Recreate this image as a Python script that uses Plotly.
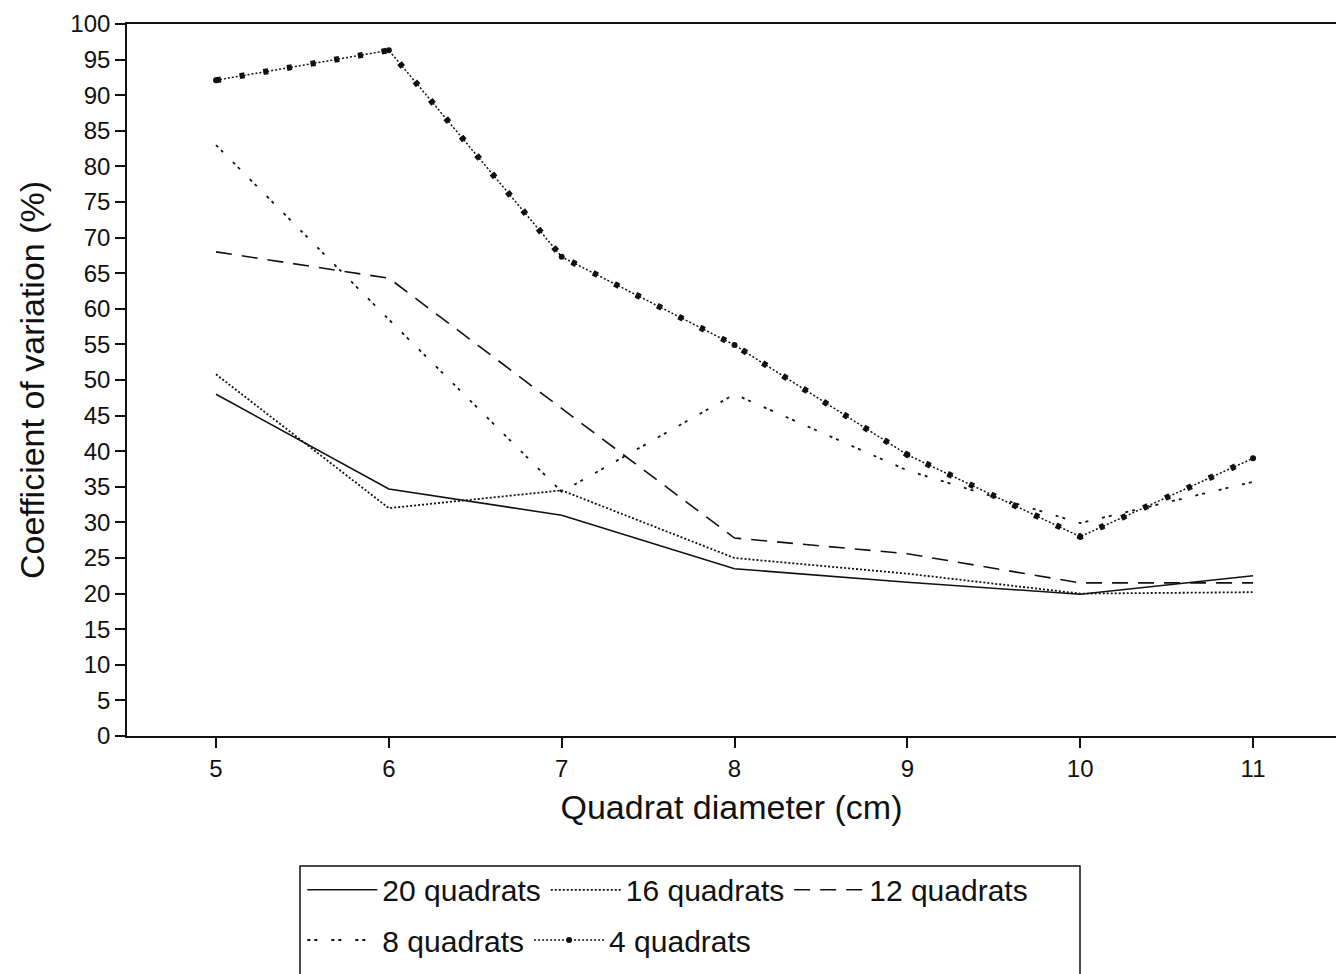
import plotly.graph_objects as go

diameters = [5, 6, 7, 8, 9, 10, 11]
q20 = [48.0, 34.7, 31.0, 23.5, 21.6, 19.9, 22.5]
q16 = [50.8, 32.0, 34.5, 25.0, 22.8, 20.0, 20.2]
q12 = [68.0, 64.3, 46.0, 27.8, 25.6, 21.5, 21.5]
q8 = [83.0, 58.5, 34.3, 48.0, 37.3, 29.9, 35.7]
q4 = [92.1, 96.3, 67.3, 54.9, 39.5, 28.0, 39.0]
yticks = list(range(0, 101, 5))

FONT = "Liberation Sans, Arial, Helvetica, sans-serif"
INK = "#111111"

fig = go.Figure()

fig.add_trace(go.Scatter(x=diameters, y=q20, mode="lines", name="20 quadrats",
                         line=dict(color=INK, width=1.6), legend="legend"))
fig.add_trace(go.Scatter(x=diameters, y=q16, mode="lines", name="16 quadrats",
                         line=dict(color=INK, width=1.8, dash="2px,2px"), legend="legend"))
fig.add_trace(go.Scatter(x=diameters, y=q12, mode="lines", name="12 quadrats",
                         line=dict(color=INK, width=1.6, dash="16px,10px"), legend="legend"))
fig.add_trace(go.Scatter(x=diameters, y=q8, mode="lines", name="8 quadrats",
                         line=dict(color=INK, width=1.8, dash="3px,4px,3px,14px"), legend="legend2"))
fig.add_trace(go.Scatter(x=diameters, y=q4, mode="lines+markers", name="4 quadrats",
                         line=dict(color=INK, width=1.5, dash="2px,2px"),
                         marker=dict(color=INK, size=6, symbol="circle"), legend="legend2"))
# bead decoration along the 4-quadrat line
fig.add_trace(go.Scatter(x=diameters, y=q4, mode="lines", name="4 quadrats",
                         line=dict(color=INK, width=6, dash="5px,19px"),
                         showlegend=False, hoverinfo="skip"))

legend_common = dict(orientation="h", font=dict(family=FONT, size=30, color=INK),
                     bgcolor="rgba(0,0,0,0)", borderwidth=0, itemwidth=70,
                     xanchor="left", yanchor="middle", traceorder="normal")

fig.update_layout(
    width=1336, height=974,
    margin=dict(l=127, r=0, t=24, b=238, autoexpand=False),
    paper_bgcolor="white", plot_bgcolor="white",
    font=dict(family=FONT, color=INK),
    legend=dict(x=0.145, y=-0.216, **legend_common),
    legend2=dict(x=0.145, y=-0.2865, **legend_common),
    xaxis=dict(
        range=[4.485, 11.48], tickvals=diameters, ticktext=[str(d) for d in diameters],
        showline=True, linecolor=INK, linewidth=1.6, mirror=True,
        ticks="outside", ticklen=10, tickwidth=1.5, tickcolor=INK,
        showgrid=False, zeroline=False,
        tickfont=dict(family=FONT, size=24, color=INK),
        title=dict(text="Quadrat diameter (cm)", font=dict(family=FONT, size=34, color=INK)),
    ),
    yaxis=dict(
        range=[0, 100], tickvals=yticks, ticktext=[str(v) for v in yticks],
        showline=True, linecolor=INK, linewidth=1.6, mirror=False,
        ticks="outside", ticklen=10, tickwidth=1.5, tickcolor=INK,
        showgrid=False, zeroline=False,
        tickfont=dict(family=FONT, size=24, color=INK),
        title=dict(text="Coefficient of variation (%)", font=dict(family=FONT, size=34, color=INK)),
    ),
    shapes=[dict(type="rect", xref="paper", yref="paper",
                 x0=(300 - 127) / 1209, x1=(1080 - 127) / 1209,
                 y0=-0.40, y1=(736 - 866) / 712,
                 line=dict(color=INK, width=1.5), fillcolor="rgba(0,0,0,0)")],
)

fig.write_html("out.html")
